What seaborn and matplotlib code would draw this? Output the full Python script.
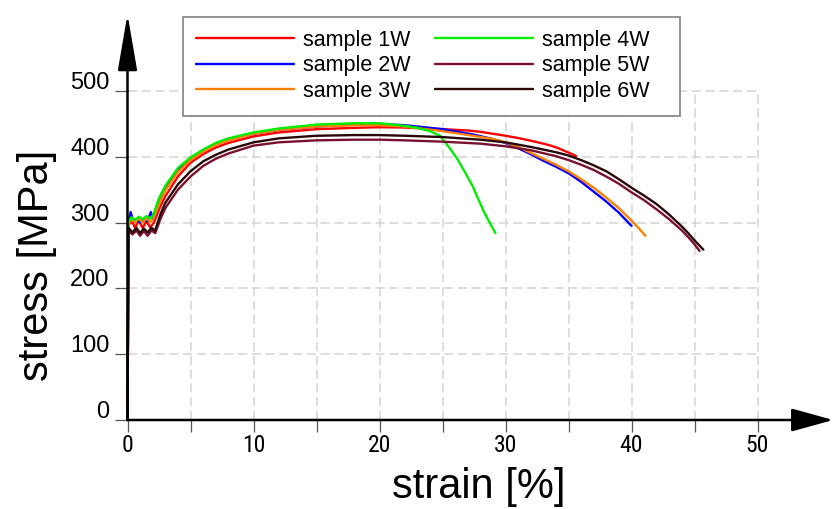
import os
import numpy as np
import pandas as pd
import matplotlib
matplotlib.use("Agg")
import matplotlib.pyplot as plt
import seaborn as sns
from matplotlib import font_manager
from matplotlib.font_manager import FontProperties
from matplotlib.patches import Rectangle
from matplotlib.transforms import ScaledTranslation

# ---------------- data ----------------
samples = ["sample 1W", "sample 2W", "sample 3W", "sample 4W", "sample 5W", "sample 6W"]
colors = ["#ff0000", "#0000ff", "#ff8000", "#00ee00", "#7a1030", "#2a0808"]

strain_1W = [0, 0.08, 0.35, 0.6, 0.9, 1.2, 1.5, 1.8, 2.1, 2.5, 3, 4, 5, 6, 7, 8, 10, 12, 15, 18, 20, 22, 25, 27, 28, 29, 30, 31, 32, 33, 33.6, 34.2, 34.8, 35.3, 35.6]
stress_1W = [0, 296, 303, 292, 303, 292, 302, 293, 300, 320, 340, 370, 391, 404, 414, 421, 431, 437, 442, 444, 445, 444.5, 442, 440, 438, 435, 432, 428.5, 424.5, 420, 417, 413, 408, 404, 401]

strain_2W = [0, 0.08, 0.25, 0.45, 0.7, 1.0, 1.3, 1.6, 1.85, 2.05, 2.4, 3, 4, 5, 6, 7, 8, 10, 12, 15, 18, 20, 22, 25, 27.4, 29, 30, 31, 32, 33, 34, 35, 36, 37, 38, 39, 39.5, 40]
stress_2W = [0, 300, 316, 302, 304, 300, 304, 302, 316, 305, 330, 353, 380, 397, 409, 419, 426, 435, 441, 446, 449, 450, 448, 442, 434, 427, 421, 413, 404, 394, 385, 375, 362, 347, 332, 315, 305, 295]

strain_3W = [0, 0.08, 0.3, 0.6, 0.9, 1.2, 1.5, 1.8, 2.05, 2.5, 3, 4, 5, 6, 7, 8, 10, 12, 15, 18, 20, 22, 25, 27.4, 29, 30, 31, 32, 33, 34, 35, 36, 37, 38, 39, 40, 40.6, 41.1]
stress_3W = [0, 298, 305, 300, 306, 300, 306, 301, 305, 328, 349, 377, 395, 408, 418, 425, 435, 441, 446, 448, 448, 446, 439, 432, 427, 422, 415, 406, 397, 388, 378, 366, 353, 338, 322, 303, 291, 280]

strain_4W = [0, 0.08, 0.3, 0.6, 0.9, 1.2, 1.5, 1.8, 2.05, 2.5, 3, 4, 5, 6, 7, 8, 10, 12, 15, 18, 20, 22, 23, 24, 24.8, 25.5, 26.2, 26.8, 27.4, 27.9, 28.3, 28.8, 29.2]
stress_4W = [0, 300, 308, 304, 309, 305, 310, 306, 312, 337, 356, 383, 399, 411, 421, 428, 437, 443, 449, 451, 451, 447, 444, 439, 432, 415, 396, 376, 355, 333, 316, 298, 284]

strain_5W = [0, 0.08, 0.4, 0.7, 1.0, 1.3, 1.6, 1.9, 2.2, 2.6, 3, 4, 5, 6, 7, 8, 10, 12, 15, 18, 20, 22, 25, 28, 30, 32, 34, 35, 36, 37, 38, 39, 40, 41, 42, 43, 44, 44.5, 45, 45.4]
stress_5W = [0, 288, 282, 288, 280, 287, 280, 288, 284, 305, 322, 350, 370, 386, 397, 405, 417, 422, 425, 426, 426, 425, 423, 420, 416, 410, 401, 395, 388, 380, 370, 359, 346, 334, 320, 305, 288, 278, 267, 257]

strain_6W = [0, 0.08, 0.4, 0.7, 1.0, 1.3, 1.6, 1.9, 2.2, 2.6, 3, 4, 5, 6, 7, 8, 10, 12, 15, 18, 20, 22, 25, 28, 30, 32, 34, 35, 36, 37, 38, 39, 40, 41, 42, 43, 44, 44.5, 45, 45.4, 45.7]
stress_6W = [0, 292, 285, 292, 284, 291, 285, 292, 288, 312, 330, 358, 378, 393, 403, 411, 422, 428, 432, 433, 433, 432, 430, 426, 422, 415, 407, 402, 395, 387, 378, 366, 353, 341, 328, 312, 294, 284, 273, 265, 259]

x_ticks = [0, 10, 20, 30, 40, 50]
x_minor_ticks = [5, 15, 25, 35, 45]
y_ticks = [0, 100, 200, 300, 400, 500]

strains = [strain_1W, strain_2W, strain_3W, strain_4W, strain_5W, strain_6W]
stresses = [stress_1W, stress_2W, stress_3W, stress_4W, stress_5W, stress_6W]

frames = []
for name, s, t in zip(samples, strains, stresses):
    frames.append(pd.DataFrame({"strain": s, "stress": t, "sample": name}))
df = pd.concat(frames, ignore_index=True)

# ---------------- fonts ----------------
sns.set_style("white")
available = {f.name for f in font_manager.fontManager.ttflist}
regular = "Liberation Sans" if "Liberation Sans" in available else "DejaVu Sans"
plt.rcParams["font.family"] = [regular, "DejaVu Sans"]
plt.rcParams["text.color"] = "black"
plt.rcParams["axes.labelcolor"] = "black"
plt.rcParams["xtick.color"] = "black"
plt.rcParams["ytick.color"] = "black"

# look for a condensed sans font for the x tick labels
prefs = ["liberationsansnarrow-regular", "robotocondensed-regular",
         "notosans-condensed.", "opensans_condensed-regular",
         "opensans-condensed", "dejavusanscondensed."]
files = [f.fname for f in font_manager.fontManager.ttflist]
narrow_file = None
for key in prefs:
    for fn in files:
        if key in os.path.basename(fn).lower().replace(" ", ""):
            narrow_file = fn
            break
    if narrow_file:
        break


def narrow_fp(size):
    if narrow_file:
        return FontProperties(fname=narrow_file, size=size)
    return FontProperties(family=[regular, "DejaVu Sans"], size=size * 0.87)


# ---------------- figure ----------------
W, H = 835, 509
fig = plt.figure(figsize=(W / 100, H / 100), dpi=100)
x0_px, y0_px = 127.5, 420.0
sx, sy = 12.6, 0.658
xmax, ymax = 56.0, 617.0
ax = fig.add_axes([x0_px / W, (H - y0_px) / H, xmax * sx / W, ymax * sy / H])

palette = dict(zip(samples, colors))
sns.lineplot(data=df, x="strain", y="stress", hue="sample", hue_order=samples,
             palette=palette, sort=False, estimator=None, units="sample",
             linewidth=1.7, ax=ax, legend=True, zorder=3)
handles, labels = ax.get_legend_handles_labels()
if ax.legend_ is not None:
    ax.legend_.remove()
for ln in ax.get_lines():
    ln.set_clip_on(False)
    ln.set_solid_joinstyle("round")

ax.set_xlim(0, xmax)
ax.set_ylim(0, ymax)

# dashed grid only inside the 0-50 / 0-500 box
grid_kw = dict(colors="#d4d4d4", linestyles=(0, (6, 3)), linewidth=1.1, zorder=0)
ax.vlines(x_ticks[1:] + x_minor_ticks, 0, y_ticks[-1], **grid_kw)
ax.hlines(y_ticks[1:], 0, x_ticks[-1], **grid_kw)

for sp in ax.spines.values():
    sp.set_visible(False)

# axis arrows
ax.annotate("", xy=(0, 1), xytext=(0, 0), xycoords="axes fraction",
            textcoords="axes fraction",
            arrowprops=dict(arrowstyle="-|>,head_length=35,head_width=6.0",
                            mutation_scale=1, lw=1.8, color="black",
                            shrinkA=0, shrinkB=0), zorder=5)
ax.annotate("", xy=(1, 0), xytext=(0, 0), xycoords="axes fraction",
            textcoords="axes fraction",
            arrowprops=dict(arrowstyle="-|>,head_length=26,head_width=7.2",
                            mutation_scale=1, lw=1.8, color="black",
                            shrinkA=0, shrinkB=0), zorder=5)

ax.set_xticks(x_ticks)
ax.set_xticks(x_minor_ticks, minor=True)
ax.set_yticks(y_ticks)
ax.set_xticklabels([str(v) for v in x_ticks], fontproperties=narrow_fp(17))
ax.set_yticklabels([str(v) for v in y_ticks], fontsize=17, family=[regular, "DejaVu Sans"])
ax.tick_params(axis="y", which="both", left=True, length=9.5, width=0.9,
               color="#555555", labelcolor="black", pad=3.5, direction="out")
ax.tick_params(axis="x", which="both", bottom=True, length=8.6, width=0.9,
               color="#555555", labelcolor="black", pad=1.5, direction="out")

# the y tick labels sit a little above their ticks
for tk in ax.yaxis.get_major_ticks():
    lab = tk.label1
    lab.set_transform(lab.get_transform() + ScaledTranslation(0, 0.105, fig.dpi_scale_trans))

ax.set_xlabel("strain [%]", fontsize=30, family=[regular, "DejaVu Sans"], color="black")
ax.xaxis.set_label_coords((479 - x0_px) / (xmax * sx), (y0_px - 467) / (ymax * sy))
ax.set_ylabel("stress [MPa]", fontsize=30, family=[regular, "DejaVu Sans"], color="black")
ax.yaxis.set_label_coords((57 - x0_px) / (xmax * sx), (y0_px - 265) / (ymax * sy))

# legend box
fig.patches.append(Rectangle((183 / W, 1 - 116 / H), 497 / W, 99 / H,
                             transform=fig.transFigure, facecolor="white",
                             edgecolor="#8a8a8a", linewidth=1.3, zorder=3))
fig.legend(handles, labels, ncol=2, frameon=False, loc="upper left",
           bbox_to_anchor=(196 / W, 1 - 30 / H), borderpad=0, borderaxespad=0,
           handlelength=4.55, handletextpad=0.42,
           columnspacing=1.12, labelspacing=0.2,
           prop={"family": [regular, "DejaVu Sans"], "size": 15.5})

fig.savefig("out.png", dpi=100)
